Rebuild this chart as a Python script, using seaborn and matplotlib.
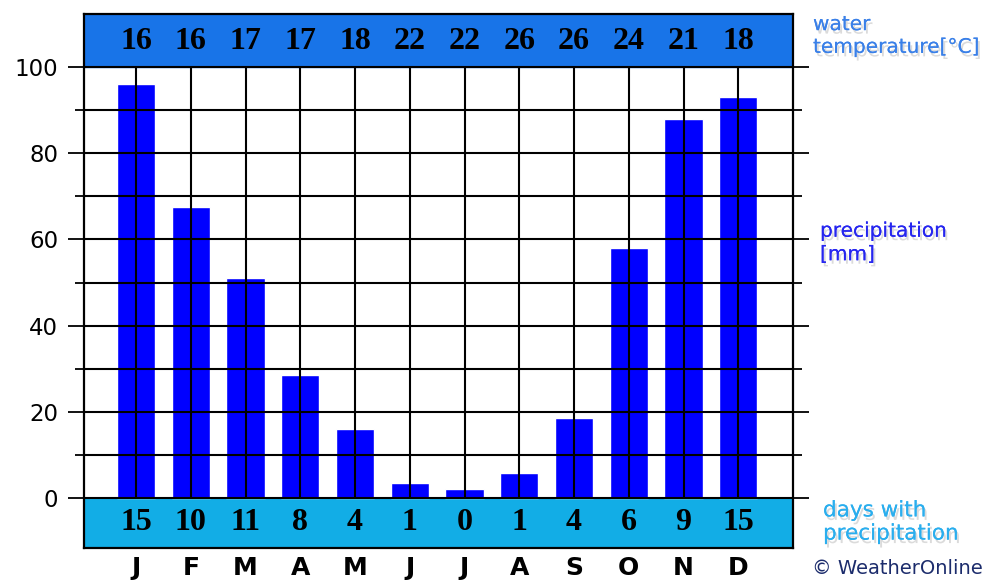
"""
Climate chart: monthly precipitation, water temperature and rainy days.
"""

import matplotlib.pyplot as plt
import matplotlib.patheffects as pe
import numpy as np
import pandas as pd
import seaborn as sns

months = ["Jan", "Feb", "Mar", "Apr", "May", "Jun",
          "Jul", "Aug", "Sep", "Oct", "Nov", "Dec"]
month_letters = ["J", "F", "M", "A", "M", "J", "J", "A", "S", "O", "N", "D"]
precipitation = [96, 67.5, 51, 28.5, 16, 3.5, 2, 5.8, 18.5, 58, 88, 93]
water_temp = [16, 16, 17, 17, 18, 22, 22, 26, 26, 24, 21, 18]
rain_days = [15, 10, 11, 8, 4, 1, 0, 1, 4, 6, 9, 15]

sns.set_style("white")
plt.rcParams["font.family"] = ["DejaVu Sans"]
plt.rcParams["text.color"] = "black"
plt.rcParams["xtick.color"] = "black"
plt.rcParams["ytick.color"] = "black"

data = pd.DataFrame({"month": months, "precip": precipitation})

fig = plt.figure(figsize=(9.97, 5.81), dpi=100)
ax = fig.add_axes([84 / 997, 1 - 548 / 581, (793 - 84) / 997, (548 - 14) / 581])

ymin, ymax = -11.6, 112.3
ax.axhspan(100, ymax, color="#1874e8", zorder=0)
ax.axhspan(ymin, 0, color="#12ade6", zorder=0)

sns.barplot(data=data, x="month", y="precip", color="#0000ff",
            saturation=1, width=0.7, ax=ax, zorder=2)

# grid over the bars
for yv in range(0, 101, 10):
    ax.axhline(yv, color="black", lw=1.5, zorder=3)
ax.vlines(np.arange(12), 0, 100, color="black", lw=1.5, zorder=3)

for i, (t, d) in enumerate(zip(water_temp, rain_days)):
    ax.text(i, 106.0, str(t), ha="center", va="center", fontsize=23,
            fontweight="bold", family="Liberation Serif", color="black",
            zorder=4)
    ax.text(i, -5.6, str(d), ha="center", va="center", fontsize=23,
            fontweight="bold", family="Liberation Serif", color="black",
            zorder=4)

ax.set_xlim(-0.95, 12.0)
ax.set_ylim(ymin, ymax)
ax.set_yticks(range(0, 101, 20))
ax.set_yticks(range(10, 100, 20), minor=True)
ax.tick_params(axis="y", which="major", direction="out", length=11.5,
               width=1.3, left=True, right=True, labelsize=16.5, pad=7)
ax.tick_params(axis="y", which="minor", direction="out", length=6.5,
               width=1.3, left=True, right=True)
ax.set_xticks(range(12))
ax.set_xticklabels(month_letters, fontsize=18, fontweight="bold")
ax.tick_params(axis="x", length=0, pad=6)
ax.set_xlabel("")
ax.set_ylabel("")
for spine in ax.spines.values():
    spine.set_visible(True)
    spine.set_linewidth(1.6)
    spine.set_color("black")
    spine.set_zorder(5)

shadow = [pe.withSimplePatchShadow(offset=(1.5, -2.5), shadow_rgbFace="#888888",
                                   alpha=0.3), pe.Normal()]
fig.text(813 / 997, 1 - 36 / 581, "water\ntemperature[°C]", color="#3a80e8",
         fontsize=14.5, va="center", ha="left", linespacing=1.25,
         path_effects=shadow)
fig.text(820 / 997, 1 - 243 / 581, "precipitation\n[mm]", color="#2626f0",
         fontsize=14.5, va="center", ha="left", linespacing=1.3,
         path_effects=shadow)
fig.text(823 / 997, 1 - 522 / 581, "days with\nprecipitation", color="#2aaeee",
         fontsize=15.5, va="center", ha="left", linespacing=1.2,
         path_effects=shadow)
fig.text(812 / 997, 1 - 568 / 581, "© WeatherOnline", color="#1c2c6c",
         fontsize=14, va="center", ha="left")

plt.savefig("out.png", dpi=100)
plt.close(fig)
